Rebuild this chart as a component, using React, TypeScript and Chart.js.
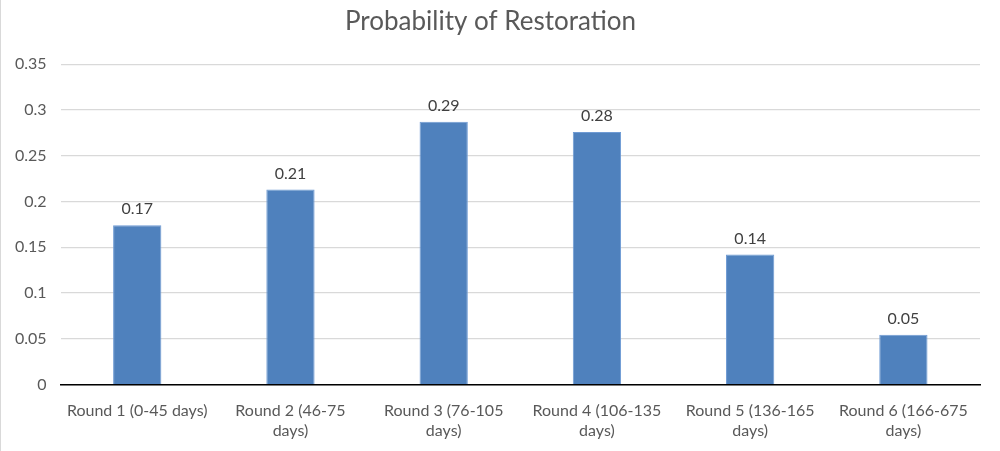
import { useEffect, useRef } from "react"
import { Chart, registerables } from "chart.js"

Chart.register(...registerables)

const FONT = "Lato, 'Open Sans', sans-serif"

const categories = [
  ["Round 1 (0-45 days)"],
  ["Round 2 (46-75", "days)"],
  ["Round 3 (76-105", "days)"],
  ["Round 4 (106-135", "days)"],
  ["Round 5 (136-165", "days)"],
  ["Round 6 (166-675", "days)"],
]
const probabilities = [0.174, 0.213, 0.287, 0.276, 0.142, 0.0545]
const yTicks = [0, 0.05, 0.1, 0.15, 0.2, 0.25, 0.3, 0.35]

// value labels above each bar
const barLabels = {
  id: "barLabels",
  afterDatasetsDraw: (chart: Chart) => {
    const ctx = chart.ctx
    const meta = chart.getDatasetMeta(0)
    ctx.save()
    ctx.font = `16px ${FONT}`
    ctx.fillStyle = "#404040"
    ctx.textAlign = "center"
    ctx.textBaseline = "bottom"
    meta.data.forEach((bar: any, i: number) => {
      ctx.fillText(probabilities[i].toFixed(2), bar.x, bar.y - 8)
    })
    ctx.restore()
  },
}

export default function App() {
  const canvasRef = useRef<HTMLCanvasElement>(null)

  useEffect(() => {
    document.body.style.margin = "0"
    if (!canvasRef.current) return
    const chart = new Chart(canvasRef.current, {
      type: "bar",
      data: {
        labels: categories,
        datasets: [
          {
            data: probabilities,
            backgroundColor: "#4F81BD",
            borderColor: "#6f9bd4",
            borderWidth: 1,
            categoryPercentage: 1,
            barPercentage: 0.315,
          },
        ],
      },
      options: {
        animation: false,
        responsive: false,
        layout: { padding: { top: 6, right: 20, left: 0, bottom: 2 } },
        plugins: {
          legend: { display: false },
          tooltip: { enabled: false },
          title: {
            display: true,
            text: "Probability of Restoration",
            color: "#595959",
            font: { family: FONT, size: 26, weight: "normal" },
            padding: { top: 0, bottom: 27 },
          },
        },
        scales: {
          x: {
            grid: { display: false },
            border: { color: "#000000", width: 1.5 },
            ticks: {
              color: "#595959",
              font: { family: FONT, size: 16 },
              maxRotation: 0,
              padding: 9,
            },
          },
          y: {
            min: 0,
            max: 0.35,
            afterBuildTicks: (axis: any) => {
              axis.ticks = yTicks.map((v) => ({ value: v }))
            },
            grid: { color: "#d9d9d9", lineWidth: 1.3, drawTicks: false },
            border: { display: false },
            ticks: {
              color: "#595959",
              font: { family: FONT, size: 16 },
              padding: 14,
              callback: (v: any) => String(Number(v)),
            },
          },
        },
      },
      plugins: [barLabels],
    } as any)
    return () => chart.destroy()
  }, [])

  return (
    <div style={{ width: 1000, height: 451, borderLeft: "1px solid #d9d9d9", boxSizing: "border-box", background: "#fff" }}>
      <canvas ref={canvasRef} width={999} height={451} style={{ display: "block" }} />
    </div>
  )
}
